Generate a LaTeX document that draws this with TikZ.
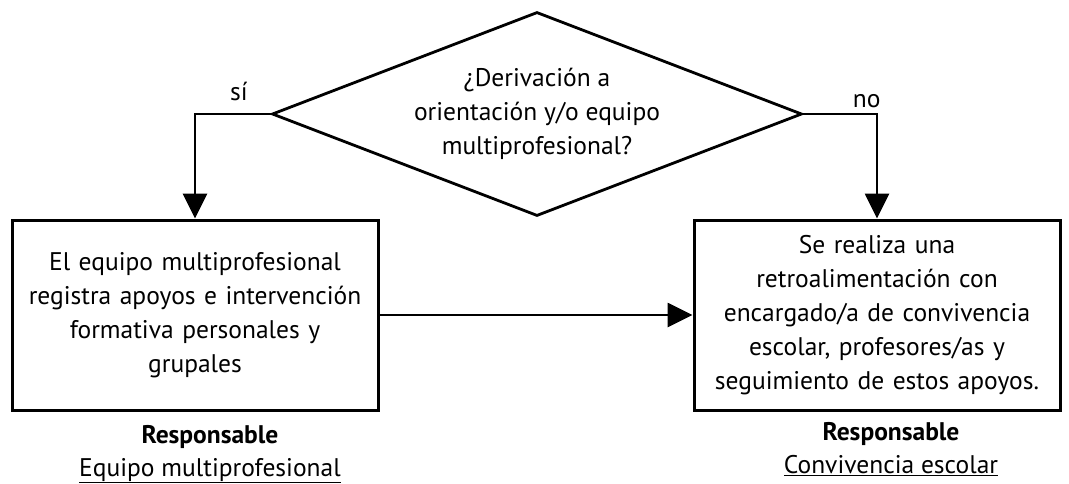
\documentclass[tikz,border=0pt]{standalone}
\usepackage{fontspec}
\setmainfont{PT Sans}
\usetikzlibrary{shapes.geometric,arrows.meta,positioning}

\begin{document}
\begin{tikzpicture}[
    x=1pt, y=-1pt,
    node distance=12pt and 12pt,
    every node/.style={font=\fontsize{25.5}{34}\selectfont},
    process/.style={rectangle, draw, line width=3pt, text width=340pt, align=center, minimum width=366pt, minimum height=190pt, inner sep=0pt},
    decision/.style={diamond, draw, line width=2.8pt, align=center, aspect=2.6, minimum width=530pt, minimum height=204pt, inner sep=0pt},
    owner/.style={align=center, font=\fontsize{25.5}{33}\selectfont},
    arrow/.style={-{Triangle[width=24pt,length=25pt]}, line width=2.8pt}
]
\useasboundingbox (0,0) rectangle (1069,483);

% Decision
\node[decision] (deriv) at (537,114) {¿Derivación a\\orientación y/o equipo\\multiprofesional?};

% Boxes
\node[process] (equipo) at (195,315) {El equipo multiprofesional\\registra apoyos e intervención\\formativa personales y\\grupales};
\node[process] (retro) at (877,315) {Se realiza una\\retroalimentación con\\encargado/a de convivencia\\escolar, profesores/as y\\seguimiento de estos apoyos.};

% Responsables
\node[owner, below=10pt of equipo, xshift=15pt] (respA) {\textbf{Responsable}\\\underline{Equipo multiprofesional}};
\node[owner, below=7pt of retro, xshift=14pt] (respB) {\textbf{Responsable}\\\underline{Convivencia escolar}};

% Arrows
\draw[arrow] (deriv.west) -| node[pos=0.21, above=8pt] {sí} (equipo.north);
\draw[arrow] (deriv.east) -| node[pos=0.43, above=1pt] {no} (retro.north);
\draw[arrow] (equipo) -- (retro);

\end{tikzpicture}
\end{document}
